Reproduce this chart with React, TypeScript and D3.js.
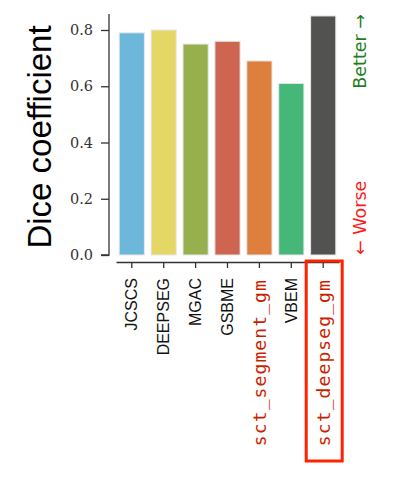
import * as d3 from "d3";
import * as React from "react";

const methods = ["JCSCS", "DEEPSEG", "MGAC", "GSBME", "sct_segment_gm", "VBEM", "sct_deepseg_gm"];
const dice = [0.79, 0.80, 0.75, 0.76, 0.69, 0.61, 0.85];
const barColors = ["#6db8da", "#e5d766", "#97b04d", "#cd6550", "#df7f3e", "#45b878", "#525251"];
const yTicks = [0.0, 0.2, 0.4, 0.6, 0.8];
const ours = ["sct_segment_gm", "sct_deepseg_gm"];

export default function App(): JSX.Element {
    const ref = React.useRef<SVGSVGElement>(null);

    const x = d3.scaleBand<string>().domain(methods).range([116, 339]).paddingInner(0.21).paddingOuter(0.1);
    const y = d3.scaleLinear().domain([0, 0.8]).range([255, 30]);

    React.useEffect(() => {
        const svg = d3.select(ref.current);
        svg.selectAll("*").remove();

        svg.append("g")
            .selectAll("rect")
            .data(methods)
            .enter()
            .append("rect")
            .attr("x", d => x(d)!)
            .attr("width", x.bandwidth())
            .attr("y", (d, i) => y(dice[i]))
            .attr("height", (d, i) => y(0) - y(dice[i]))
            .attr("fill", (d, i) => barColors[i])
            .attr("stroke", "#e8e8e8")
            .attr("stroke-width", 1);

        // y axis
        const yAxis = svg.append("g")
            .attr("transform", "translate(109,0)")
            .call(d3.axisLeft(y).tickValues(yTicks).tickFormat(d3.format(".1f")).tickSize(8).tickPadding(8));
        yAxis.select(".domain").attr("d", `M-8,${y(0)}H0V${y(0.857)}`).attr("stroke", "#333").attr("stroke-width", 1.3);
        yAxis.selectAll(".tick line").attr("stroke", "#333").attr("stroke-width", 1.3);
        yAxis.selectAll(".tick text")
            .style("font-family", "'DejaVu Serif'")
            .style("font-size", "14.5px")
            .attr("fill", "#333");

        // x axis
        const xAxis = svg.append("g")
            .attr("transform", "translate(0,262)")
            .call(d3.axisBottom(x).tickSize(6).tickSizeOuter(0).tickPadding(10));
        xAxis.select(".domain").attr("stroke", "#333").attr("stroke-width", 1.3);
        xAxis.selectAll(".tick line").attr("stroke", "#333").attr("stroke-width", 1.3);
        xAxis.selectAll<SVGTextElement, string>(".tick text")
            .attr("transform", "rotate(-90)")
            .attr("text-anchor", "end")
            .attr("dominant-baseline", "central")
            .attr("x", d => ours.includes(d) ? -17 : -16)
            .attr("y", 0)
            .attr("dy", null)
            .style("font-family", d => ours.includes(d) ? "'DejaVu Sans Mono'" : "'Liberation Sans'")
            .style("font-size", d => ours.includes(d) ? "18px" : "16px")
            .style("letter-spacing", d => ours.includes(d) ? "1.1px" : null)
            .attr("fill", d => ours.includes(d) ? "#cc1f00" : "#111");

        // highlight box
        const last = methods[methods.length - 1];
        svg.append("rect")
            .attr("x", x(last)! + x.bandwidth() / 2 - 17)
            .attr("y", 261)
            .attr("width", 36)
            .attr("height", 200)
            .attr("fill", "none")
            .attr("stroke", "#ff2200")
            .attr("stroke-width", 3);

        svg.append("text")
            .attr("transform", "translate(39,137) rotate(-90)")
            .attr("text-anchor", "middle")
            .attr("dominant-baseline", "central")
            .style("font-family", "'Liberation Sans'")
            .style("font-size", "33px")
            .attr("fill", "#000")
            .text("Dice coefficient");

        svg.append("text")
            .attr("transform", `translate(360,${y(0.857)}) rotate(-90)`)
            .attr("text-anchor", "end")
            .attr("dominant-baseline", "central")
            .style("font-family", "'DejaVu Sans'")
            .style("font-size", "17.5px")
            .attr("fill", "#1f7f1f")
            .text("Better \u2192");

        svg.append("text")
            .attr("transform", `translate(360,${y(0)}) rotate(-90)`)
            .attr("text-anchor", "start")
            .attr("dominant-baseline", "central")
            .style("font-family", "'DejaVu Sans'")
            .style("font-size", "17.5px")
            .attr("fill", "#ff1a1a")
            .text("\u2190 Worse");
    }, [x, y]);

    return (
        <svg
            ref={ref}
            width={395}
            height={484}
            style={{ position: "absolute", left: 0, top: 0, background: "#fff" }}
        />
    );
}
